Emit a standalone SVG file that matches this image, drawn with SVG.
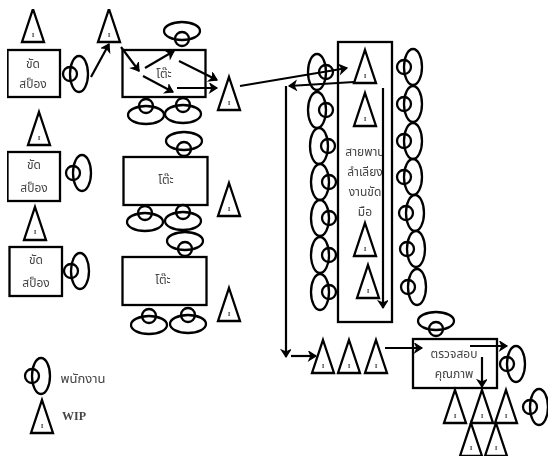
<svg xmlns="http://www.w3.org/2000/svg" width="548" height="456" viewBox="0 0 548 456">
<style>
.s{fill:none;stroke:#000;stroke-width:2.3}
.c{fill:none;stroke:#000;stroke-width:2.2;marker-end:url(#a)}
.t{font-family:"Noto Sans Thai","Liberation Serif","Noto Sans",serif;font-size:12px;fill:#444;text-anchor:middle}
.l{font-size:13px}
.i{font-family:"Liberation Serif",serif;font-size:7px;font-weight:bold;fill:#444;text-anchor:middle}
.w{font-family:"Liberation Serif",serif;font-size:12px;font-weight:bold;fill:#444;text-anchor:middle}
</style>
<defs>
<filter id="b" x="0" y="0" width="100%" height="100%"><feGaussianBlur stdDeviation="0.45"/></filter>
<marker id="a" markerUnits="userSpaceOnUse" markerWidth="12" markerHeight="12" refX="9" refY="5" orient="auto"><path d="M2,0.5 L9,5 L2,9.500 L4,5 Z" fill="#000" stroke="#000" stroke-width="1.200"/></marker>
<polygon id="tri" class="s" points="0,0 11,33 -11,33"/>
<g id="pL" class="s"><ellipse rx="9" ry="18"/><circle cx="-9" r="7"/></g>
<g id="pR" class="s"><ellipse rx="9" ry="18"/><circle cx="9" r="7"/></g>
<g id="pU" class="s"><ellipse rx="18" ry="9"/><circle cy="8" r="7"/></g>
<g id="pD" class="s"><ellipse rx="18" ry="9"/><circle cy="-9" r="7"/></g>
</defs>
<rect width="548" height="456" fill="#fff"/>
<g filter="url(#b)">
<g id="boxes">
<g id="box1"><rect class="s" x="7.500" y="50" width="52.500" height="47"/><text class="t" x="33" y="68">ขัด</text><text class="t" x="33" y="88">สป็อง</text></g>
<g id="box2"><rect class="s" x="7.500" y="152" width="52.500" height="49"/><text class="t" x="34" y="169">ขัด</text><text class="t" x="34" y="192">สป็อง</text></g>
<g id="box3"><rect class="s" x="9.500" y="247" width="52.500" height="49"/><text class="t" x="36" y="264">ขัด</text><text class="t" x="36" y="287">สป็อง</text></g>
<g id="table1"><rect class="s" x="122.500" y="50" width="83" height="47"/><text class="t" x="164" y="78">โต๊ะ</text></g>
<g id="table2"><rect class="s" x="123.500" y="157" width="84" height="48"/><text class="t" x="166" y="184">โต๊ะ</text></g>
<g id="table3"><rect class="s" x="122.500" y="257" width="84" height="48"/><text class="t" x="163" y="284">โต๊ะ</text></g>
<g id="conveyor"><rect class="s" x="338" y="42" width="54" height="280"/><text class="t" x="365" y="156">สายพาน</text><text class="t" x="365" y="176">ลำเลียง</text><text class="t" x="365" y="196">งานขัด</text><text class="t" x="365" y="216">มือ</text></g>
<g id="inspect"><rect class="s" x="413" y="339" width="84" height="49"/><text class="t" x="454" y="358">ตรวจสอบ</text><text class="t" x="454" y="378">คุณภาพ</text></g>
</g>
<g id="workers">
<use href="#pL" x="79" y="74"/>
<use href="#pL" x="82" y="173"/>
<use href="#pL" x="80" y="271"/>
<use href="#pL" x="41" y="376"/>
<use href="#pU" x="182" y="31"/>
<use href="#pD" x="146" y="115"/>
<use href="#pD" x="183" y="114"/>
<use href="#pU" x="184" y="141"/>
<use href="#pD" x="145" y="222"/>
<use href="#pD" x="183" y="221"/>
<use href="#pU" x="185" y="241"/>
<use href="#pD" x="149" y="325"/>
<use href="#pD" x="188" y="324"/>
<use href="#pR" x="317" y="72"/>
<use href="#pR" x="317" y="110"/>
<use href="#pR" x="319" y="146"/>
<use href="#pR" x="320" y="182"/>
<use href="#pR" x="320" y="218"/>
<use href="#pR" x="320" y="255"/>
<use href="#pR" x="320" y="292"/>
<use href="#pL" x="413" y="67"/>
<use href="#pL" x="413" y="104"/>
<use href="#pL" x="413" y="141"/>
<use href="#pL" x="413" y="177"/>
<use href="#pL" x="415" y="213"/>
<use href="#pL" x="416" y="249"/>
<use href="#pL" x="417" y="287"/>
<use href="#pU" x="436" y="321"/>
<use href="#pL" x="516" y="364"/>
<use href="#pL" x="539" y="407"/>
</g>
<g id="wip">
<g id="w1"><use href="#tri" x="33" y="9"/><text class="i" x="33" y="37">I</text></g>
<g id="w2"><use href="#tri" x="109" y="9"/><text class="i" x="109" y="37">I</text></g>
<g id="w3"><use href="#tri" x="229" y="77"/><text class="i" x="229" y="105">I</text></g>
<g id="w4"><use href="#tri" x="39" y="112"/><text class="i" x="39" y="140">I</text></g>
<g id="w5"><use href="#tri" x="229" y="183"/><text class="i" x="229" y="211">I</text></g>
<g id="w6"><use href="#tri" x="35" y="207"/><text class="i" x="35" y="234">I</text></g>
<g id="w7"><use href="#tri" x="229" y="288"/><text class="i" x="229" y="316">I</text></g>
<g id="w8"><use href="#tri" x="42" y="400"/><text class="i" x="42" y="428">I</text></g>
<g id="w9"><use href="#tri" x="365" y="50"/><text class="i" x="365" y="78">I</text></g>
<g id="w10"><use href="#tri" x="365" y="93"/><text class="i" x="365" y="121">I</text></g>
<g id="w11"><use href="#tri" x="365" y="223"/><text class="i" x="365" y="251">I</text></g>
<g id="w12"><use href="#tri" x="368" y="265"/><text class="i" x="368" y="293">I</text></g>
<g id="w13"><use href="#tri" x="323" y="340"/><text class="i" x="323" y="368">I</text></g>
<g id="w14"><use href="#tri" x="349" y="340"/><text class="i" x="349" y="368">I</text></g>
<g id="w15"><use href="#tri" x="376" y="340"/><text class="i" x="376" y="368">I</text></g>
<g id="w16"><use href="#tri" x="455" y="390"/><text class="i" x="455" y="418">I</text></g>
<g id="w17"><use href="#tri" x="482" y="390"/><text class="i" x="482" y="418">I</text></g>
<g id="w18"><use href="#tri" x="506" y="390"/><text class="i" x="506" y="418">I</text></g>
<g id="w19"><use href="#tri" x="471" y="423"/><text class="i" x="471" y="450">I</text></g>
<g id="w20"><use href="#tri" x="496" y="423"/><text class="i" x="496" y="450">I</text></g>
</g>
<g id="connectors">
<line class="c" x1="91" y1="77" x2="109" y2="44"/>
<line class="c" x1="121" y1="47" x2="139" y2="71"/>
<line class="c" x1="145" y1="68" x2="174" y2="51"/>
<line class="c" x1="143" y1="76" x2="173" y2="92"/>
<line class="c" x1="179" y1="61" x2="217" y2="80"/>
<line class="c" x1="177" y1="88" x2="217" y2="88"/>
<line class="c" x1="240" y1="86" x2="347" y2="68"/>
<line class="c" x1="354" y1="82" x2="289" y2="86"/>
<line class="c" x1="286" y1="86" x2="286" y2="357"/>
<line class="c" x1="291" y1="356" x2="316" y2="356"/>
<line class="c" x1="385" y1="348" x2="422" y2="348"/>
<line class="c" x1="470" y1="346" x2="507" y2="346"/>
<line class="c" x1="482" y1="357" x2="482" y2="387"/>
<line class="c" x1="383" y1="88" x2="383" y2="308"/>
</g>
<g id="legend"><text class="t l" x="83" y="383">พนักงาน</text><text class="w" x="74" y="420">WIP</text></g>
</g>
</svg>
